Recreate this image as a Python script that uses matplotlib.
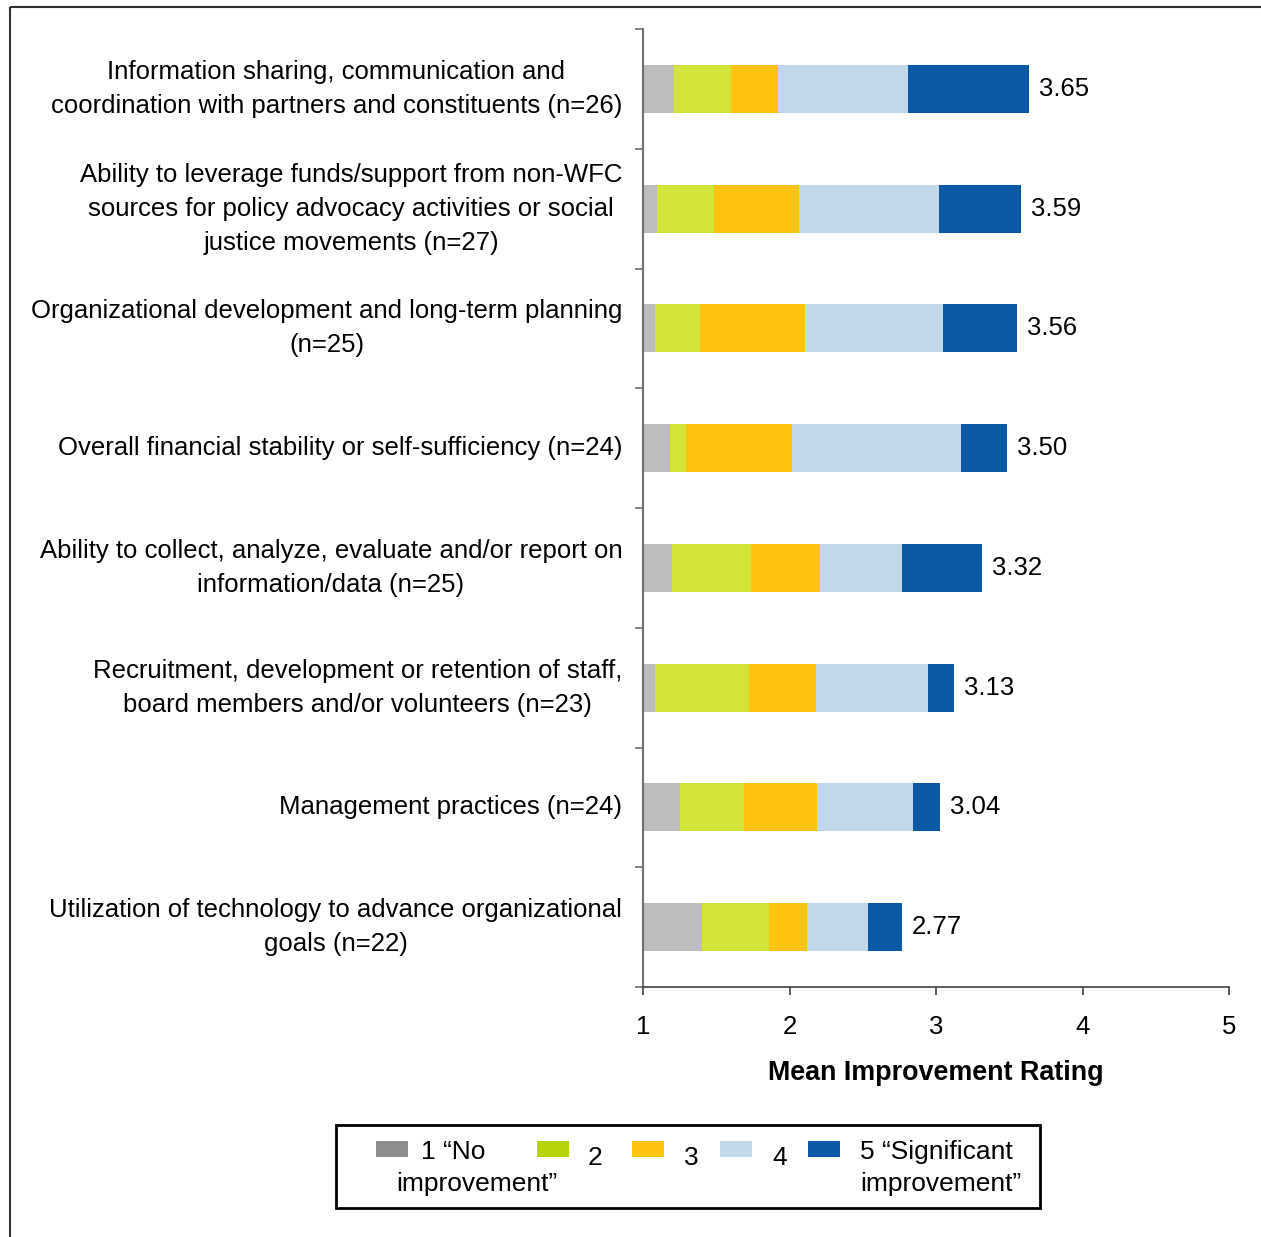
import numpy as np
import matplotlib.pyplot as plt
from matplotlib.patches import Rectangle

plt.rcParams['font.family'] = ['Liberation Sans', 'DejaVu Sans']

# data
categories = [
    "Information sharing, communication and\ncoordination with partners and constituents (n=26)",
    "Ability to leverage funds/support from non-WFC\nsources for policy advocacy activities or social\njustice movements (n=27)",
    "Organizational development and long-term planning\n(n=25)",
    "Overall financial stability or self-sufficiency (n=24)",
    "Ability to collect, analyze, evaluate and/or report on\ninformation/data (n=25)",
    "Recruitment, development or retention of staff,\nboard members and/or volunteers (n=23)",
    "Management practices (n=24)",
    "Utilization of technology to advance organizational\ngoals (n=22)",
]
means = [3.65, 3.59, 3.56, 3.50, 3.32, 3.13, 3.04, 2.77]

# width of each rating segment (in rating units), bars start at 1
seg1 = [0.212, 0.096, 0.082, 0.184, 0.198, 0.082, 0.253, 0.403]
seg2 = [0.389, 0.387, 0.307, 0.109, 0.539, 0.642, 0.437, 0.457]
seg3 = [0.319, 0.582, 0.717, 0.724, 0.471, 0.455, 0.498, 0.259]
seg4 = [0.889, 0.956, 0.942, 1.154, 0.560, 0.767, 0.655, 0.416]
seg5 = [0.826, 0.560, 0.505, 0.314, 0.546, 0.177, 0.184, 0.232]

legend_labels = ["1 \u201cNo", "2", "3", "4", "5 \u201cSignificant"]
bar_colors = ['#BDBDBD', '#D4E337', '#FEC210', '#C2D7E8', '#0B58A5']
legend_colors = ['#8E8E8E', '#B7D30C', '#FEC210', '#C2D7E8', '#0B58A5']

W, H = 1261, 1237
fig = plt.figure(figsize=(W / 100, H / 100), dpi=100)
ax = fig.add_axes([643 / W, 1 - 987 / H, (1229 - 643) / W, (987 - 29) / H])

y = np.arange(len(categories))
left = np.ones(len(categories))
for seg, c in zip([seg1, seg2, seg3, seg4, seg5], bar_colors):
    ax.barh(y, seg, left=left, height=0.4, color=c, edgecolor='none')
    left = left + np.array(seg)

for yi, end, m in zip(y, left, means):
    ax.annotate(f"{m:.2f}", (end, yi), xytext=(7, 0), textcoords='offset points',
                va='center', ha='left', fontsize=18.5)

# category labels, right-aligned next to the axis, lines centred
for yi, cat in zip(y, categories):
    ax.annotate(cat, (0, yi), xycoords=('axes fraction', 'data'),
                xytext=(-15, 0), textcoords='offset points',
                ha='right', va='center', multialignment='center',
                linespacing=1.52, fontsize=18.5, annotation_clip=False)

ax.set_xlim(1, 5)
ax.set_ylim(len(categories) - 0.5, -0.5)
ax.set_xticks([1, 2, 3, 4, 5])
ax.set_yticks([])
ax.set_yticks(np.arange(len(categories) + 1) - 0.5, minor=True)
ax.tick_params(axis='y', which='minor', length=6, color='#707070', width=1.2)
ax.tick_params(axis='x', length=6, width=1.2, color='#404040', pad=14, labelsize=18.5)
ax.set_xlabel("Mean Improvement Rating", fontsize=19.4, fontweight='bold', labelpad=15)

for s in ['top', 'right']:
    ax.spines[s].set_visible(False)
ax.spines['left'].set_color('#707070')
ax.spines['left'].set_linewidth(1.5)
ax.spines['bottom'].set_color('#404040')
ax.spines['bottom'].set_linewidth(1.2)

# legend, drawn by hand in pixel coords
lax = fig.add_axes([0, 0, 1, 1], zorder=5)
lax.set_xlim(0, W)
lax.set_ylim(H, 0)
lax.axis('off')
lax.add_patch(Rectangle((336, 1125), 704, 83, fill=False, edgecolor='black', linewidth=2))
hx = [376, 537, 632, 720, 808]
tx = [421, 588, 684, 772, 860]
for i in range(5):
    lax.add_patch(Rectangle((hx[i], 1141), 32, 16, facecolor=legend_colors[i], edgecolor='none'))
    ty = 1152 if i in (0, 4) else 1158
    lax.text(tx[i], ty, legend_labels[i], fontsize=19, va='center', ha='left')
lax.text(396, 1184, "improvement\u201d", fontsize=19, va='center', ha='left')
lax.text(860, 1184, "improvement\u201d", fontsize=19, va='center', ha='left')

# outer frame
lax.add_patch(Rectangle((10, 7), W, H, fill=False, edgecolor='#303030', linewidth=1.5))

fig.savefig("out.png", dpi=100)
